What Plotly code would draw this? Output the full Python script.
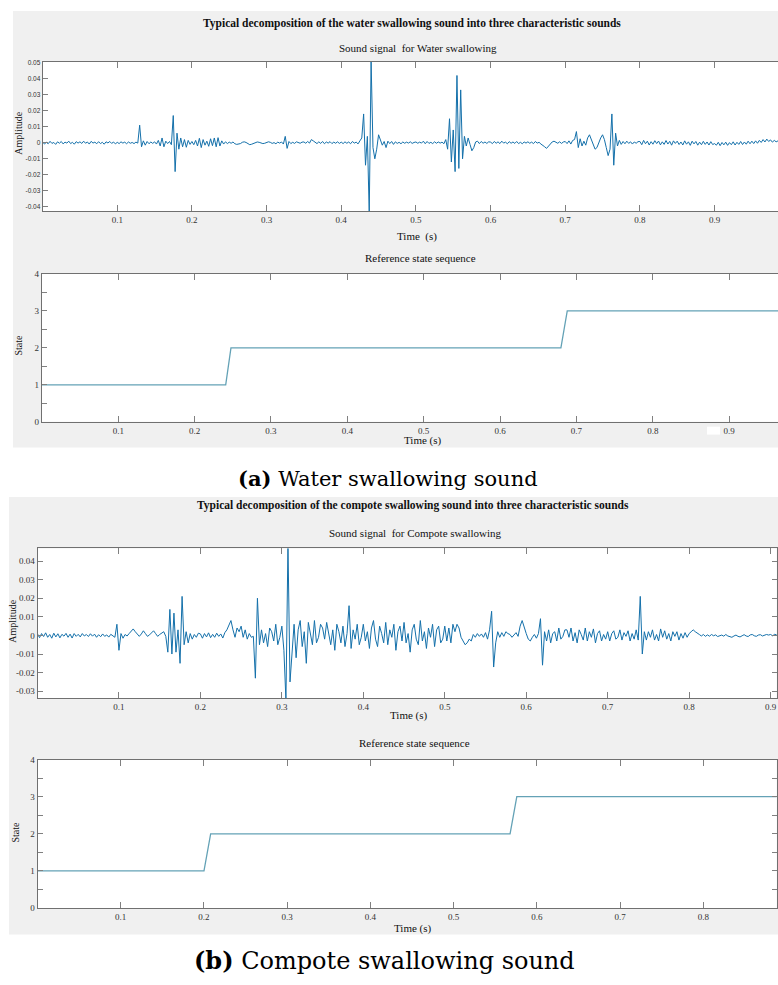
import numpy as np
import plotly.graph_objects as go

W, H = 778, 985

# ---------------- data ----------------
title_a = "Typical decomposition of the water swallowing sound into three characteristic sounds"
title_b = "Typical decomposition of the compote swallowing sound into three characteristic sounds"
sub_signal_a = "Sound signal  for Water swallowing"
sub_signal_b = "Sound signal  for Compote swallowing"
sub_state = "Reference state sequence"
caption_a_bold, caption_a_text = "(a)", " Water swallowing sound"
caption_b_bold, caption_b_text = "(b)", " Compote swallowing sound"

water_dt = 0.0025
water_amp_milli = [
    0.5,-0.8,0.3,-0.6,0.9,-0.4,0.2,-1.0,0.6,-0.3,0.8,-0.7,0.4,-0.2,1.0,-0.5,0.3,-0.9,0.7,-0.2,
    0.6,-0.4,1.0,-0.3,0.5,-0.8,0.9,-0.2,0.4,-0.6,0.7,-0.5,0.3,-0.9,0.6,-0.1,0.8,-0.4,0.5,-0.7,
    0.3,-0.5,0.6,-0.2,0.4,-0.6,0.5,-0.3,0.2,-0.5,0.4,-0.2,11.0,-2.5,1.2,-1.5,0.8,-0.6,0.5,-0.4,
    0.6,-0.8,1.5,-2.0,3.0,-2.5,1.0,-0.5,0.8,-1.2,17.0,-18.0,6.0,-4.0,3.0,-2.5,2.0,-2.8,1.5,-1.0,
    0.8,-1.2,1.5,-2.0,2.8,-3.0,2.0,-1.5,1.0,-2.2,2.5,-1.8,3.0,-2.5,3.2,-2.0,1.2,-0.8,0.6,-0.5,
    0.4,-0.3,0.5,-0.6,-1.0,-0.8,-0.5,0.3,0.6,0.2,-0.4,-1.2,-0.9,-0.3,0.2,0.5,0.3,-0.2,-0.5,-0.3,
    0.2,0.6,0.3,-0.4,0.1,-0.6,0.4,-0.2,0.5,-0.8,4.0,-3.5,0.8,-0.5,0.3,-0.4,0.6,0.2,-0.3,0.4,
    0.5,-0.3,0.8,-0.2,2.0,1.2,0.5,-0.5,0.6,-0.4,0.8,-0.6,0.5,-0.2,0.7,-0.5,0.4,-0.3,0.6,-0.4,
    0.4,-0.5,0.6,-0.3,0.5,-0.6,0.8,-0.2,0.4,-0.7,1.2,3.0,18.0,-14.0,4.0,-44.0,51.0,-3.0,-10.0,-4.0,
    5.0,2.0,-1.5,0.8,-3.0,1.0,-0.5,0.8,-1.0,0.6,-0.4,0.3,-0.6,0.5,-0.3,0.4,-0.2,0.6,-0.4,0.2,
    0.5,-0.3,0.4,-0.2,1.0,-0.6,0.8,-0.4,0.3,-0.5,0.6,-0.3,0.5,-0.2,0.4,-0.6,2.0,-4.0,15.0,-12.0,
    8.0,-18.0,42.0,-16.0,33.0,-10.0,4.0,-2.0,3.0,-1.0,-5.0,-3.0,0.5,1.0,-0.5,0.8,-0.3,0.5,-0.4,0.6,
    0.4,-0.5,0.8,-0.3,0.6,-0.5,1.0,-0.2,0.4,-0.6,0.7,-0.3,0.5,-0.4,0.8,-0.5,0.3,-0.6,0.5,-0.2,
    0.6,-0.3,0.4,-0.5,0.8,-0.2,0.3,-0.8,-1.5,-2.5,-3.5,-2.0,-0.5,0.5,1.0,0.4,-0.3,0.6,-0.4,0.5,
    0.8,-0.5,1.2,-0.8,1.5,2.0,7.0,-3.0,2.5,-2.0,1.0,-1.5,3.0,5.0,2.0,-2.0,-4.0,-3.0,0.5,3.0,
    5.0,2.0,-3.0,-8.0,-4.0,18.0,-14.0,6.0,-2.0,1.5,-1.0,0.8,-0.6,1.0,-0.4,0.6,-0.8,0.5,-0.3,0.7,
    0.8,-1.2,1.5,-0.6,1.0,-1.4,0.7,-0.9,1.3,-0.5,1.1,-1.3,0.6,-1.0,1.4,-0.8,0.9,-1.5,1.2,-0.4,
    1.0,-1.1,0.5,-1.4,1.2,-0.9,0.6,-1.6,1.0,-0.7,0.8,-1.5,0.4,-1.2,0.9,-1.0,0.5,-1.4,0.7,-1.1,
    -0.5,-1.5,0.3,-1.8,0.2,-1.3,0.4,-1.6,0.1,-1.2,0.6,-1.4,0.3,-1.0,0.8,-1.1,0.5,-0.9,1.0,-0.6,
    1.0,-0.5,1.2,-0.3,1.5,0.2,2.0,0.5,2.3,0.8,1.8,0.4,1.5,0.6,1.2,
]

compote_dt = 0.0025
compote_amp_milli = [
    0.8,-1.2,1.0,-0.6,1.4,-1.0,0.5,-1.5,1.2,-0.8,0.9,-1.3,0.6,-0.4,1.1,-1.0,0.7,-1.4,1.0,-0.5,
    0.6,-0.8,1.0,-0.3,0.5,-0.6,0.9,-0.4,0.7,-1.0,0.4,-0.7,0.8,-0.5,0.3,-0.9,0.6,-0.4,-1.0,6.0,
    -8.0,1.0,-1.5,0.5,-0.3,1.0,2.0,3.5,2.0,0.5,-0.5,0.8,2.5,1.0,-0.5,0.3,1.5,2.5,1.0,-0.5,
    0.5,1.5,2.0,-0.5,-9.0,14.0,-10.0,12.0,-9.0,3.0,-15.0,21.0,-5.0,2.0,-4.0,1.0,-2.0,0.5,-1.0,1.2,
    0.8,-1.5,1.0,-0.8,1.4,-1.2,0.6,-1.0,1.2,-0.5,0.8,-1.4,1.5,3.0,6.0,8.0,3.0,-1.0,4.0,2.0,
    5.0,-1.0,3.0,-2.0,1.0,-1.0,-0.5,-23.0,20.0,-5.0,3.0,-4.0,1.0,-6.0,4.0,2.0,-3.0,6.0,-5.0,-1.0,
    5.0,-8.0,-35.0,49.0,-25.0,-10.0,6.0,-12.0,3.0,8.0,-6.0,2.0,-15.0,7.0,1.0,-5.0,8.0,-4.0,-1.0,6.0,
    4.0,-2.0,7.0,1.0,-5.0,3.0,-8.0,6.0,2.0,-4.0,5.0,-6.0,1.0,16.0,-7.0,3.0,-2.0,6.0,-5.0,-1.0,
    6.0,-3.0,2.0,-7.0,4.0,8.0,-2.0,-6.0,5.0,1.0,-4.0,7.0,-5.0,3.0,-1.0,6.0,-8.0,2.0,5.0,-3.0,
    7.0,-4.0,1.0,-9.0,3.0,6.0,-2.0,-5.0,8.0,-3.0,2.0,-7.0,4.0,-1.0,6.0,-6.0,3.0,5.0,-4.0,-2.0,
    5.0,-3.0,4.0,-4.0,6.0,2.0,6.0,4.0,-1.0,-3.0,-5.0,-4.0,-2.0,-3.0,0.5,-1.0,1.0,-0.5,0.8,-1.0,
    1.5,-2.0,3.0,13.0,-17.0,-4.0,2.0,-1.0,1.5,-0.5,2.0,1.0,0.5,-1.0,0.5,1.5,-0.5,5.0,8.0,4.0,
    1.0,-2.0,-3.0,-1.0,0.5,-1.5,1.0,9.0,-16.0,2.0,-3.0,3.0,-4.0,1.0,2.0,-3.0,4.0,-2.0,-0.5,3.0,
    3.0,-1.0,4.0,-3.0,1.5,-4.0,3.0,0.5,-2.5,4.0,-3.0,2.0,-1.0,3.5,-4.0,1.0,2.5,-3.0,0.5,-2.0,
    2.0,-3.0,1.0,2.5,-2.0,-1.0,3.0,-2.5,1.5,-0.5,2.5,-3.0,1.0,-2.0,3.0,-2.5,21.0,-10.0,2.0,-2.5,
    2.0,-1.0,3.0,-2.5,0.5,-3.0,3.5,-1.0,2.5,-2.0,1.0,-3.0,2.0,-0.5,2.0,-2.5,1.0,-1.5,1.5,-1.0,
    1.0,2.0,3.0,2.0,1.0,0.5,-0.3,0.5,-0.5,0.3,-0.4,0.5,-0.2,0.3,-0.6,-0.2,0.2,-0.4,0.5,-0.3,
    -0.5,-1.0,-0.3,0.2,-0.5,-0.8,-0.2,0.4,-0.3,-0.6,0.3,0.5,-0.2,-0.5,0.2,0.4,-0.3,0.3,0.5,0.2,
    0.5,-0.2,0.6,0.3,0.5,
]

water_state_t = [0.0, 0.2407, 0.2476, 0.6797, 0.688, 0.985]
water_state = [1, 1, 2, 2, 3, 3]
compote_state_t = [0.0, 0.2, 0.208, 0.5677, 0.5758, 0.888]
compote_state = [1, 1, 2, 2, 3, 3]

time_ticks = [0.1, 0.2, 0.3, 0.4, 0.5, 0.6, 0.7, 0.8, 0.9]
time_ticklabels = ["0.1", "0.2", "0.3", "0.4", "0.5", "0.6", "0.7", "0.8", "0.9"]
water_amp_ticks = [-0.04, -0.03, -0.02, -0.01, 0, 0.01, 0.02, 0.03, 0.04, 0.05]
water_amp_ticklabels = ["-0.04", "-0.03", "-0.02", "-0.01", "0", "0.01", "0.02", "0.03", "0.04", "0.05"]
compote_amp_ticks = [-0.03, -0.02, -0.01, 0, 0.01, 0.02, 0.03, 0.04]
compote_amp_ticklabels = ["-0.03", "-0.02", "-0.01", "0", "0.01", "0.02", "0.03", "0.04"]
state_ticks = [0, 0.5, 1, 1.5, 2, 2.5, 3, 3.5, 4]
state_ticklabels = ["0", "", "1", "", "2", "", "3", "", "4"]

# ---------------- derived ----------------
water_amp = np.array(water_amp_milli) / 1000.0
water_t = np.arange(len(water_amp)) * water_dt
compote_amp = np.array(compote_amp_milli) / 1000.0
compote_t = np.arange(len(compote_amp)) * compote_dt


def px(x):
    return x / W


def py(y):
    return 1 - y / H


SERIF = "Liberation Serif"
SIG_COLOR = "#1470aa"
STATE_COLOR = "#64a2b6"
LINE_COLOR = "#707070"
TICK_COLOR = "#808080"

fig = go.Figure()
fig.add_trace(go.Scatter(x=water_t, y=water_amp, mode="lines", line=dict(color=SIG_COLOR, width=1),
                         xaxis="x", yaxis="y", showlegend=False, hoverinfo="skip"))
fig.add_trace(go.Scatter(x=water_state_t, y=water_state, mode="lines", line=dict(color=STATE_COLOR, width=1.3),
                         xaxis="x2", yaxis="y2", showlegend=False))
fig.add_trace(go.Scatter(x=compote_t, y=compote_amp, mode="lines", line=dict(color=SIG_COLOR, width=1),
                         xaxis="x3", yaxis="y3", showlegend=False, hoverinfo="skip"))
fig.add_trace(go.Scatter(x=compote_state_t, y=compote_state, mode="lines", line=dict(color=STATE_COLOR, width=1.3),
                         xaxis="x4", yaxis="y4", showlegend=False))


def xaxis(dom, rng, anchor):
    return dict(domain=[px(dom[0]), px(dom[1])], range=rng, anchor=anchor,
                tickvals=time_ticks, ticktext=time_ticklabels,
                ticks="inside", ticklen=6, tickcolor=TICK_COLOR, tickwidth=1,
                showline=True, linecolor=LINE_COLOR, linewidth=1, mirror="ticks",
                showgrid=False, zeroline=False,
                tickfont=dict(family=SERIF, size=9, color="#333333"),
                ticklabelstandoff=0)


def yaxis(dom, rng, anchor, vals, texts, font, mirror):
    return dict(domain=[py(dom[1]), py(dom[0])], range=rng, anchor=anchor,
                tickvals=vals, ticktext=texts,
                ticks="inside", ticklen=5, tickcolor=TICK_COLOR, tickwidth=1,
                showline=True, linecolor=LINE_COLOR, linewidth=1, mirror=mirror,
                showgrid=False, zeroline=False, tickfont=font, ticklabelstandoff=0)


layout = dict(
    width=W, height=H, margin=dict(l=0, r=0, t=0, b=0), autosize=False,
    paper_bgcolor="white", plot_bgcolor="white", showlegend=False,
    xaxis=xaxis((42.6, 778), [0, 0.985], "y"),
    yaxis=yaxis((57.3, 208.3), [-0.0427, 0.0506], "x", water_amp_ticks, water_amp_ticklabels,
                dict(family="Liberation Sans", size=6.5, color="#333333"), False),
    xaxis2=xaxis((41.9, 778), [0, 0.964], "y2"),
    yaxis2=yaxis((271.7, 421), [0, 4], "x2", state_ticks, state_ticklabels,
                 dict(family=SERIF, size=9, color="#333333"), False),
    xaxis3=xaxis((37.5, 776.7), [0, 0.9075], "y3"),
    yaxis3=yaxis((549, 700), [-0.0336, 0.0468], "x3", compote_amp_ticks, compote_amp_ticklabels,
                 dict(family=SERIF, size=9, color="#333333"), "ticks"),
    xaxis4=xaxis((37.5, 776.7), [0, 0.888], "y4"),
    yaxis4=yaxis((762.3, 912.3), [0, 4], "x4", state_ticks, state_ticklabels,
                 dict(family=SERIF, size=9, color="#333333"), "ticks"),
)
fig.update_layout(**layout)

# background panels
shapes = [
    dict(type="rect", xref="paper", yref="paper", x0=px(13), x1=1, y0=py(447), y1=py(6),
         fillcolor="#f0f0f0", line=dict(width=0), layer="below"),
    dict(type="rect", xref="paper", yref="paper", x0=px(9), x1=1, y0=py(939), y1=py(497),
         fillcolor="#f0f0f0", line=dict(width=0), layer="below"),
    dict(type="rect", xref="paper", yref="paper", x0=px(707), x1=px(720), y0=py(434), y1=py(426),
         fillcolor="white", line=dict(width=0), layer="below"),
]
for ax in ["", "2", "3", "4"]:
    shapes.append(dict(type="rect", xref=f"x{ax} domain", yref=f"y{ax} domain", x0=0, x1=1, y0=0, y1=1,
                       fillcolor="white", line=dict(width=0), layer="below"))
fig.update_layout(shapes=shapes)


def ann(text, x, y, size, bold=False, angle=0, family=SERIF, color="#111111"):
    if bold:
        text = f"<b>{text}</b>"
    return dict(text=text, x=px(x), y=py(y), xref="paper", yref="paper", showarrow=False,
                xanchor="center", yanchor="middle", textangle=angle,
                font=dict(family=family, size=size, color=color))


annotations = [
    ann(title_a, 412, 18.5, 11.5, bold=True),
    ann(sub_signal_a, 418, 43, 11),
    ann("Time  (s)", 417, 234, 11),
    ann("Amplitude", 19, 130, 10, angle=-90),
    ann(sub_state, 421, 256, 11),
    ann("Time (s)", 423, 440, 11),
    ann("State", 19, 344, 10, angle=-90),
    ann(title_b, 413, 505.5, 11.5, bold=True),
    ann(sub_signal_b, 416, 533, 11),
    ann("Time (s)", 409, 718, 11),
    ann("Amplitude", 13, 622, 10, angle=-90),
    ann(sub_state, 414, 746, 11),
    ann("Time (s)", 413, 933, 11),
    ann("State", 16, 835, 10, angle=-90),
    ann(f"<b>{caption_a_bold}</b>{caption_a_text}", 387.5, 478, 21, family="DejaVu Serif", color="#000000"),
    ann(f"<b>{caption_b_bold}</b>{caption_b_text}", 384, 965.5, 24, family="DejaVu Serif", color="#000000"),
]
fig.update_layout(annotations=annotations)

fig.write_html("out.html", config={"displayModeBar": False},
               post_script="document.body.style.margin='0px';")
